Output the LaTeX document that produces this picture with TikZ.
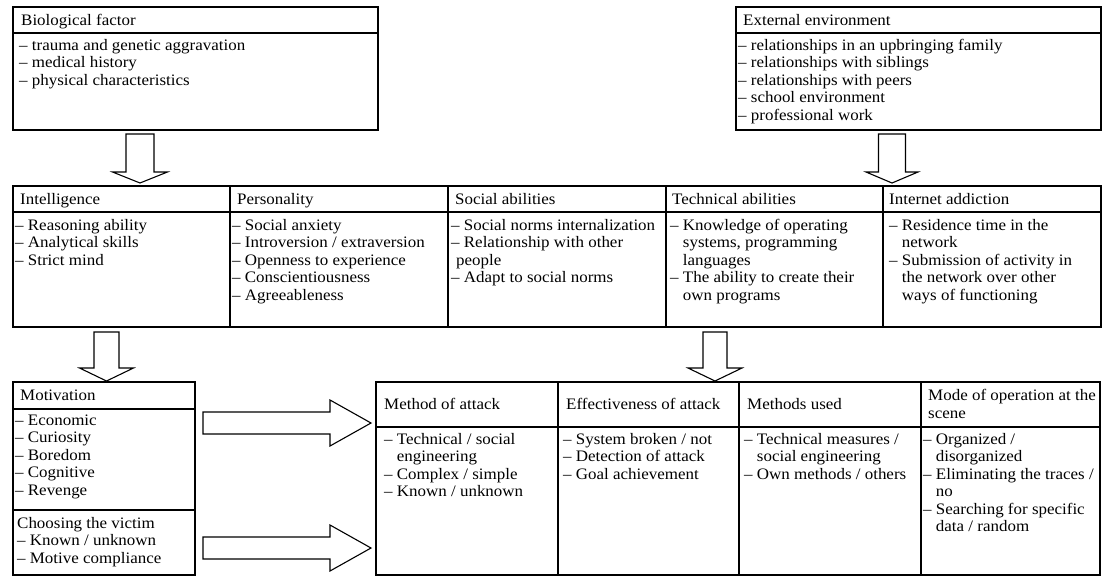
\documentclass[tikz,border=0pt]{standalone}
\usepackage{fontspec}
\setmainfont{Liberation Serif}[FakeStretch=1.06]
\usetikzlibrary{calc}
\newcommand\itm[1]{\begin{tabular}[t]{@{}l@{}}#1\end{tabular}}
\newcommand\hi{\hphantom{-- }}
\newcommand\blkdown[5]{%
  \draw[blk] let \p1=(#1), \p2=(#2) in
   (\x1-#3pt,\y1) -- (\x1+#3pt,\y1) -- (\x1+#3pt,\y2+#5pt) -- (\x1+#4pt,\y2+#5pt)
   -- (\x1,\y2) -- (\x1-#4pt,\y2+#5pt) -- (\x1-#3pt,\y2+#5pt) -- cycle;}
\newcommand\blkright[5]{%
  \draw[blk] let \p1=(#1), \p2=(#2) in
   (\x1,\y1+#3pt) -- (\x2-#5pt,\y1+#3pt) -- (\x2-#5pt,\y1+#4pt) -- (\x2,\y1)
   -- (\x2-#5pt,\y1-#4pt) -- (\x2-#5pt,\y1-#3pt) -- (\x1,\y1-#3pt) -- cycle;}
\tikzset{
  frame/.style={draw, line width=1.1pt, inner sep=0pt, outer sep=0pt, anchor=north west},
  hd/.style={anchor=base west, inner sep=0pt},
  bd/.style={anchor=base west, inner sep=0pt},
  blk/.style={draw, line width=1.1pt, fill=white, line join=miter},
}
\begin{document}
\begin{tikzpicture}[x=1pt, y=-1pt, font=\fontsize{16}{17.5}\selectfont]
\useasboundingbox (0,0) rectangle (1110,584);
% top boxes
\node[frame, minimum width=365pt, minimum height=26pt] (bioh) at (13,7) {};
\node[frame, minimum width=365pt, minimum height=97pt] (biob) at (bioh.south west) {};
\node[frame, minimum width=365pt, minimum height=26pt] (exth) at (736,7) {};
\node[frame, minimum width=365pt, minimum height=97pt] (extb) at (exth.south west) {};
% row 2
\node[frame, minimum width=217pt, minimum height=26pt] (inth) at (13,186) {};
\node[frame, minimum width=217pt, minimum height=115pt] (intb) at (inth.south west) {};
\node[frame, minimum width=218pt, minimum height=26pt] (perh) at (230,186) {};
\node[frame, minimum width=218pt, minimum height=115pt] (perb) at (perh.south west) {};
\node[frame, minimum width=218pt, minimum height=26pt] (soch) at (448,186) {};
\node[frame, minimum width=218pt, minimum height=115pt] (socb) at (soch.south west) {};
\node[frame, minimum width=217pt, minimum height=26pt] (tech) at (666,186) {};
\node[frame, minimum width=217pt, minimum height=115pt] (tecb) at (tech.south west) {};
\node[frame, minimum width=218pt, minimum height=26pt] (neth) at (883,186) {};
\node[frame, minimum width=218pt, minimum height=115pt] (netb) at (neth.south west) {};
% row 3
\node[frame, minimum width=182pt, minimum height=27pt] (moth) at (13,382) {};
\node[frame, minimum width=182pt, minimum height=101pt] (motb) at (moth.south west) {};
\node[frame, minimum width=182pt, minimum height=65pt] (vicb) at (motb.south west) {};
\node[frame, minimum width=182pt, minimum height=45pt] (mah) at (376,382) {};
\node[frame, minimum width=182pt, minimum height=148pt] (mab) at (mah.south west) {};
\node[frame, minimum width=181pt, minimum height=45pt] (efh) at (558,382) {};
\node[frame, minimum width=181pt, minimum height=148pt] (efb) at (efh.south west) {};
\node[frame, minimum width=182pt, minimum height=45pt] (muh) at (739,382) {};
\node[frame, minimum width=182pt, minimum height=148pt] (mub) at (muh.south west) {};
\node[frame, minimum width=179pt, minimum height=45pt] (moh) at (921,382) {};
\node[frame, minimum width=179pt, minimum height=148pt] (mob) at (moh.south west) {};
% texts
\node[hd] at ($(bioh.west)+(8,5)$) {Biological factor};
\node[bd] at ($(biob.north west)+(6,17)$) {\itm{-- trauma and genetic aggravation\\-- medical history\\-- physical characteristics}};
\node[hd] at ($(exth.west)+(7,5)$) {External environment};
\node[bd] at ($(extb.north west)+(2,17)$) {\itm{-- relationships in an upbringing family\\-- relationships with siblings\\-- relationships with peers\\-- school environment\\-- professional work}};
\node[hd] at ($(inth.west)+(7,5)$) {Intelligence};
\node[bd] at ($(intb.north west)+(2,18)$) {\itm{-- Reasoning ability\\-- Analytical skills\\-- Strict mind}};
\node[hd] at ($(perh.west)+(7,5)$) {Personality};
\node[bd] at ($(perb.north west)+(2,18)$) {\itm{-- Social anxiety\\-- Introversion / extraversion\\-- Openness to experience\\-- Conscientiousness\\-- Agreeableness}};
\node[hd] at ($(soch.west)+(7,5)$) {Social abilities};
\node[bd] at ($(socb.north west)+(3,18)$) {\itm{-- Social norms internalization\\-- Relationship with other\\\hspace{5pt}people\\-- Adapt to social norms}};
\node[hd] at ($(tech.west)+(6,5)$) {Technical abilities};
\node[bd] at ($(tecb.north west)+(4,18)$) {\itm{-- Knowledge of operating\\\hi systems, programming\\\hi languages\\-- The ability to create their\\\hi own programs}};
\node[hd] at ($(neth.west)+(6,5)$) {Internet addiction};
\node[bd] at ($(netb.north west)+(6,18)$) {\itm{-- Residence time in the\\\hi network\\-- Submission of activity in\\\hi the network over other\\\hi ways of functioning}};
\node[hd] at ($(moth.west)+(7,5)$) {Motivation};
\node[bd] at ($(motb.north west)+(2,16)$) {\itm{-- Economic\\-- Curiosity\\-- Boredom\\-- Cognitive\\-- Revenge}};
\node[bd] at ($(vicb.north west)+(4,18)$) {\itm{Choosing the victim\\-- Known / unknown\\-- Motive compliance}};
\node[hd] at ($(mah.west)+(8,5)$) {Method of attack};
\node[bd] at ($(mab.north west)+(8,17)$) {\itm{-- Technical / social\\\hi engineering\\-- Complex / simple\\-- Known / unknown}};
\node[hd] at ($(efh.west)+(8,5)$) {Effectiveness of attack};
\node[bd] at ($(efb.north west)+(5,17)$) {\itm{-- System broken / not\\-- Detection of attack\\-- Goal achievement}};
\node[hd] at ($(muh.west)+(8,5)$) {Methods used};
\node[bd] at ($(mub.north west)+(5,17)$) {\itm{-- Technical measures /\\\hi social engineering\\-- Own methods / others}};
\node[bd] at ($(moh.west)+(7,-3.75)$) {\itm{Mode of operation at the\\scene}};
\node[bd] at ($(mob.north west)+(2,17)$) {\itm{-- Organized /\\\hi disorganized\\-- Eliminating the traces /\\\hi no\\-- Searching for specific\\\hi data / random}};
% arrow end points
\coordinate (a1s) at ($(biob.south west)+(127,4)$);
\coordinate (a1e) at ($(inth.north west)+(127,-3)$);
\coordinate (a2s) at ($(extb.south west)+(156,4)$);
\coordinate (a2e) at ($(neth.north west)+(9,-3)$);
\coordinate (a3s) at ($(intb.south west)+(93.5,5)$);
\coordinate (a3e) at ($(moth.north west)+(93.5,-1)$);
\coordinate (a4s) at ($(tecb.south west)+(49,5)$);
\coordinate (a4e) at ($(efh.north west)+(157,-1)$);
\coordinate (a5s) at ($(moth.south east)+(8,14)$);
\coordinate (a5e) at ($(mah.south west)+(-5,-4)$);
\coordinate (a6s) at ($(vicb.south east)+(8,-27)$);
\coordinate (a6e) at ($(mab.south west)+(-5,-27)$);
\blkdown{a1s}{a1e}{14}{27.5}{11}
\blkdown{a2s}{a2e}{13.5}{26}{11}
\blkdown{a3s}{a3e}{12.5}{27}{13}
\blkdown{a4s}{a4e}{12}{27}{13}
\blkright{a5s}{a5e}{11}{23}{41}
\blkright{a6s}{a6e}{11}{23}{41}
\end{tikzpicture}
\end{document}
